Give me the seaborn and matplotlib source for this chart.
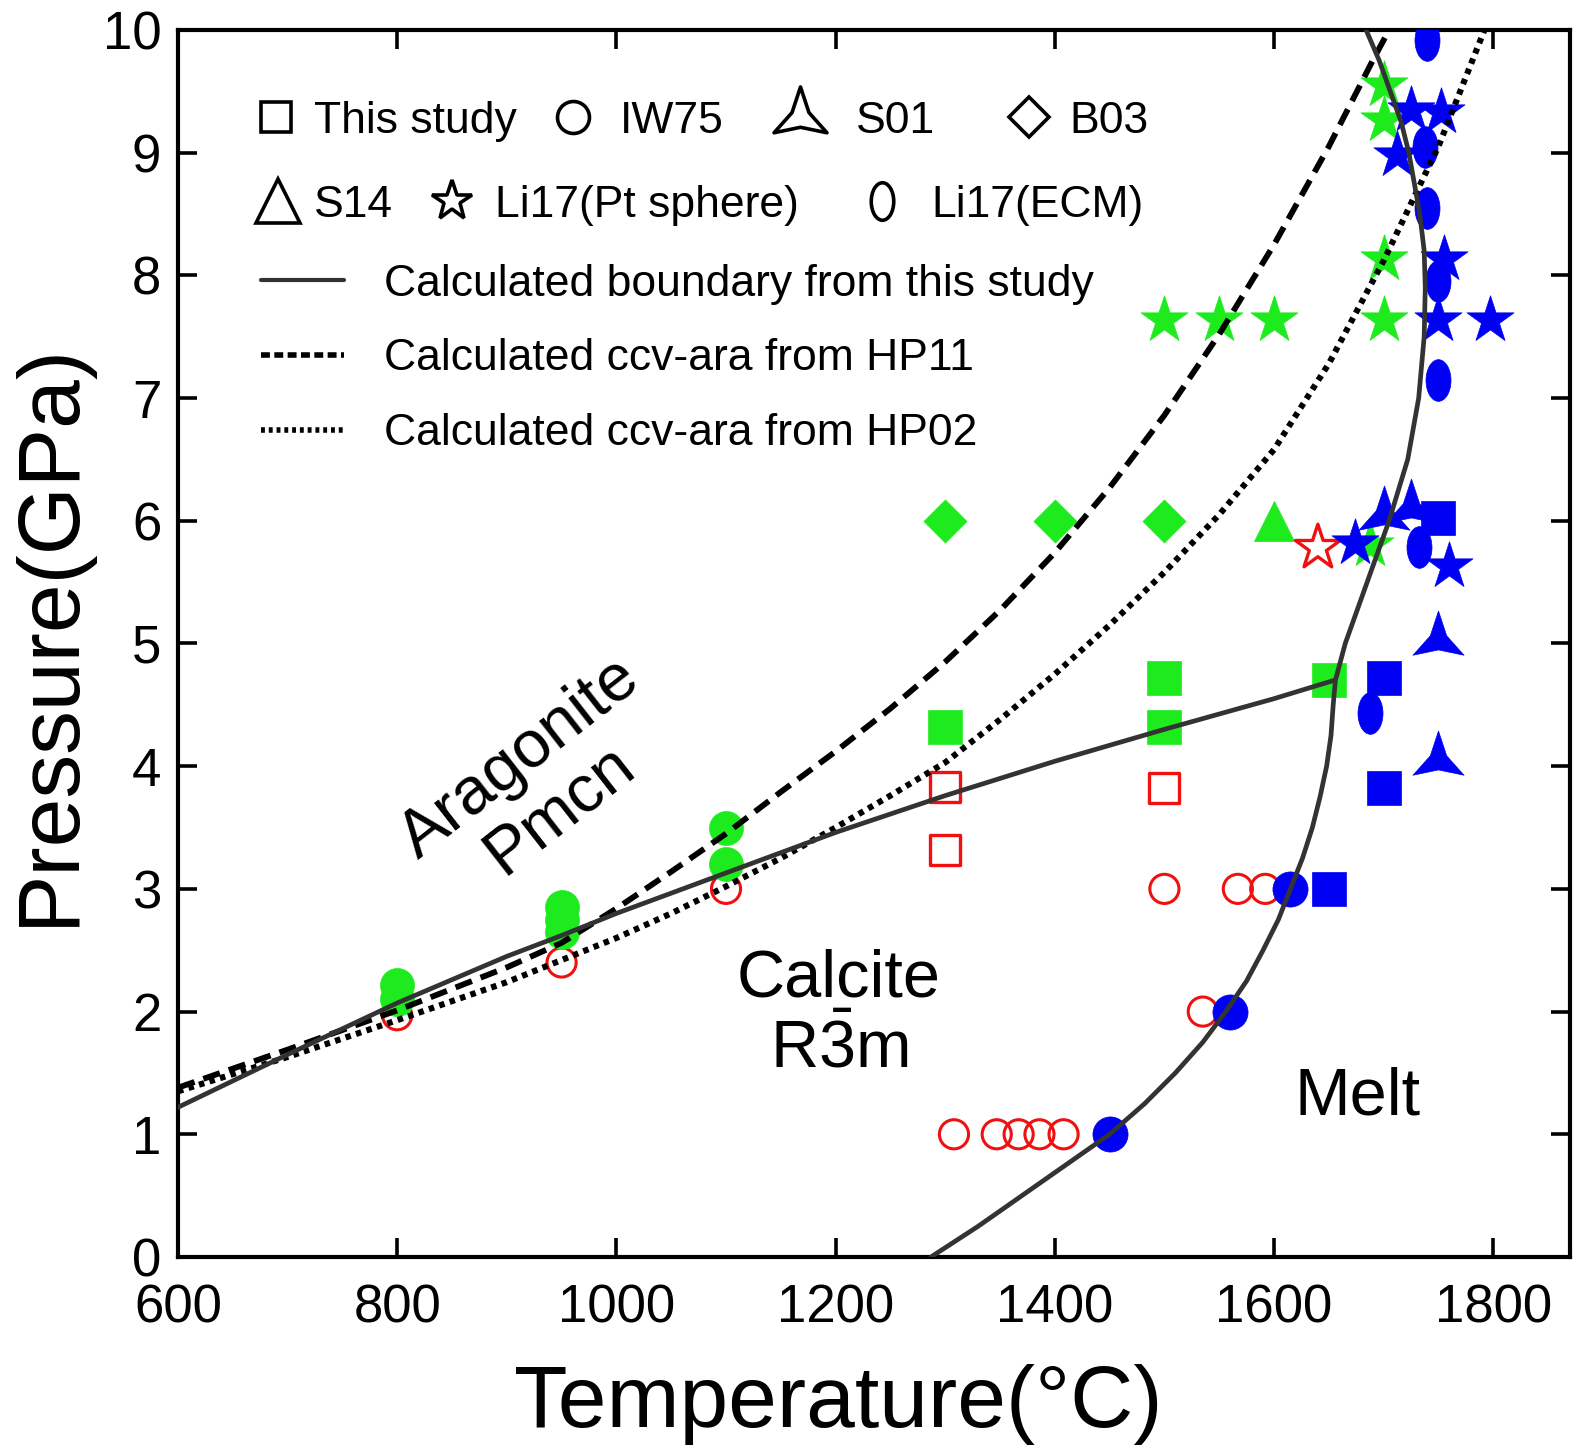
import matplotlib
matplotlib.use("Agg")
import matplotlib.pyplot as plt
import seaborn as sns
from matplotlib.path import Path
from matplotlib.transforms import Affine2D
from matplotlib.lines import Line2D

# ---- experimental points (T in degC, P in GPa) ----
# IW75 circles
iw_arag_T = [800, 800, 950, 950, 950, 1100, 1100]
iw_arag_P = [2.10, 2.22, 2.65, 2.75, 2.85, 3.20, 3.50]
iw_calc_T = [800, 950, 1100, 1500, 1567, 1592, 1535, 1308, 1347, 1367, 1386, 1408]
iw_calc_P = [1.97, 2.40, 3.00, 3.00, 3.00, 3.00, 2.00, 1.00, 1.00, 1.00, 1.00, 1.00]
iw_melt_T = [1450, 1560, 1615]
iw_melt_P = [1.00, 2.00, 3.00]

# this study squares
ts_arag_T = [1300, 1500, 1500, 1650]
ts_arag_P = [4.32, 4.72, 4.32, 4.70]
ts_calc_T = [1300, 1300, 1500]
ts_calc_P = [3.83, 3.32, 3.82]
ts_melt_T = [1650, 1700, 1700, 1750]
ts_melt_P = [3.00, 4.72, 3.82, 6.02]

# S01 (melt)
s01_T = [1750, 1750, 1700, 1725]
s01_P = [5.03, 4.05, 6.05, 6.10]

# B03 diamonds, S14 triangle
b03_T = [1300, 1400, 1500]
b03_P = [6.0, 6.0, 6.0]
s14_T = [1600]
s14_P = [6.0]

# Li17 Pt sphere stars
li_star_arag_T = [1500, 1550, 1600, 1700, 1700, 1700, 1700, 1688]
li_star_arag_P = [7.64, 7.64, 7.64, 7.64, 8.13, 9.27, 9.55, 5.80]
li_star_calc_T = [1640]
li_star_calc_P = [5.78]
li_star_melt_T = [1674, 1760, 1712, 1725, 1752, 1755, 1750, 1797]
li_star_melt_P = [5.82, 5.63, 8.98, 9.35, 9.33, 8.13, 7.64, 7.64]

# Li17 ECM ellipses
li_ecm_T = [1740, 1738, 1740, 1750, 1750, 1688, 1732]
li_ecm_P = [9.92, 9.05, 8.55, 7.95, 7.15, 4.43, 5.79]

# ---- boundaries ----
ccv_T = [600, 700, 800, 900, 950, 1000, 1100, 1200, 1300, 1400, 1500, 1600, 1655]
ccv_P = [1.22, 1.65, 2.07, 2.45, 2.62, 2.80, 3.13, 3.46, 3.76, 4.04, 4.30, 4.55, 4.70]

melt_T = [1287, 1330, 1370, 1410, 1450, 1482, 1510, 1535, 1556, 1575, 1590, 1604, 1615,
          1626, 1635, 1642, 1648, 1652, 1654, 1656, 1665, 1685, 1705, 1722, 1732,
          1737, 1738, 1737, 1733, 1723, 1716, 1706, 1696, 1684]
melt_P = [0.00, 0.25, 0.50, 0.75, 1.00, 1.25, 1.50, 1.75, 2.00, 2.25, 2.50, 2.75, 3.00,
          3.25, 3.50, 3.75, 4.00, 4.25, 4.50, 4.70, 5.00, 5.50, 6.00, 6.50, 7.00,
          7.50, 7.90, 8.20, 8.50, 9.00, 9.25, 9.50, 9.75, 10.00]

hp11_T = [600, 700, 800, 900, 950, 1000, 1050, 1100, 1150, 1200, 1250, 1300, 1350,
          1400, 1450, 1500, 1550, 1600, 1650, 1690, 1705]
hp11_P = [1.38, 1.69, 2.01, 2.36, 2.56, 2.84, 3.14, 3.45, 3.79, 4.12, 4.47, 4.85, 5.27,
          5.74, 6.27, 6.86, 7.52, 8.25, 9.05, 9.75, 10.00]

hp02_T = [600, 700, 800, 900, 950, 1000, 1050, 1100, 1150, 1200, 1250, 1300, 1350,
          1400, 1450, 1500, 1550, 1600, 1650, 1700, 1750, 1792]
hp02_P = [1.35, 1.63, 1.93, 2.24, 2.42, 2.60, 2.80, 3.02, 3.25, 3.50, 3.76, 4.03, 4.38,
          4.75, 5.15, 5.58, 6.05, 6.58, 7.28, 8.12, 9.05, 10.00]

green = "#1EEB1E"
blue = "#0000F5"
red = "#F01010"
dark = "#333333"

sns.set_style("ticks")
plt.rcParams['font.family'] = ['Liberation Sans', 'DejaVu Sans']
plt.rcParams['mathtext.fontset'] = 'custom'
plt.rcParams['mathtext.rm'] = 'Liberation Sans'
plt.rcParams['text.color'] = 'black'
plt.rcParams['axes.labelcolor'] = 'black'

# custom markers
ellipse = Path.unit_circle().transformed(Affine2D().scale(0.6, 1.0))
tri_star = Path.unit_regular_star(3, innerCircle=0.32)

fig = plt.figure(figsize=(15.85, 14.53), dpi=100)
ax = fig.add_axes([0.1123, 0.1349, 0.8782, 0.8445])

def pts(T, P, marker, size, color, open_=False, lw=2.2):
    if open_:
        sns.scatterplot(x=T, y=P, marker=marker, s=size, facecolor="none",
                        edgecolor=color, linewidth=lw, ax=ax, zorder=3)
    else:
        sns.scatterplot(x=T, y=P, marker=marker, s=size, color=color,
                        edgecolor=color, linewidth=0.5, ax=ax, zorder=3)

pts(iw_calc_T, iw_calc_P, "o", 440, red, open_=True)
pts(iw_arag_T, iw_arag_P, "o", 600, green)
pts(iw_melt_T, iw_melt_P, "o", 640, blue)
pts(ts_calc_T, ts_calc_P, "s", 470, red, open_=True, lw=2.4)
pts(ts_arag_T, ts_arag_P, "s", 565, green)
pts(ts_melt_T, ts_melt_P, "s", 565, blue)
pts(b03_T, b03_P, "D", 480, green)
pts(li_star_arag_T, li_star_arag_P, "*", 1270, green)
pts(s14_T, s14_P, "^", 830, green)
pts(li_star_calc_T, li_star_calc_P, "*", 1150, red, open_=True, lw=2.4)
pts(li_star_melt_T, li_star_melt_P, "*", 1270, blue)
pts(s01_T, s01_P, tri_star, 1800, blue)
pts(li_ecm_T, li_ecm_P, ellipse, 900, blue)

# boundaries
sns.lineplot(x=hp11_T, y=hp11_P, sort=False, estimator=None, color="black",
             linewidth=4.2, linestyle=(0, (3.0, 1.6)), ax=ax, zorder=5)
sns.lineplot(x=hp02_T, y=hp02_P, sort=False, estimator=None, color="black",
             linewidth=4.4, linestyle=(0, (0.9, 0.9)), ax=ax, zorder=5)
sns.lineplot(x=ccv_T, y=ccv_P, sort=False, estimator=None, color=dark,
             linewidth=3.4, ax=ax, zorder=6)
sns.lineplot(x=melt_T, y=melt_P, sort=False, estimator=None, color=dark,
             linewidth=3.4, ax=ax, zorder=6)

ax.set_xlim(600, 1870)
ax.set_ylim(0, 10)
ax.set_xticks(range(600, 1801, 200))
ax.set_yticks(range(0, 11))
ax.tick_params(direction="in", length=14, width=2.6, labelsize=38,
               top=True, right=True, colors="black")
ax.tick_params(axis="x", pad=19)
ax.tick_params(axis="y", pad=12)
for sp in ax.spines.values():
    sp.set_linewidth(3.0)
    sp.set_color("black")

ax.set_xlabel("Temperature(°C)", fontsize=63, va="center", color="black")
ax.set_ylabel("Pressure(GPa)", fontsize=63, va="center", color="black")
ax.xaxis.set_label_coords(0.4746, -0.12)
ax.yaxis.set_label_coords(-0.0916, 0.508)

# region labels
ax.text(930, 3.85, "Aragonite\nPmcn", fontsize=48, rotation=38,
        ha="center", va="center", rotation_mode="anchor", linespacing=1.05)
ax.text(1203, 1.97, "Calcite\nR$\\bar{3}$m", fontsize=48, ha="center",
        va="center", linespacing=1.15)
ax.text(1676, 1.30, "Melt", fontsize=48, ha="center", va="center")

# legend
fs = 32
fs_px = fs * 100 / 72
ax_w = 0.8782 * 1585
hl = 1.0

def open_handle(marker, ms):
    return Line2D([], [], linestyle="none", marker=marker, markersize=ms,
                  markerfacecolor="none", markeredgecolor="black",
                  markeredgewidth=2.6)

entries = [
    (open_handle("s", 21), "This study", 0.0704, 0.9255, 0.36),
    (open_handle("o", 23), "IW75", 0.2838, 0.9255, 0.56),
    (open_handle(tri_star, 44), "S01", 0.4468, 0.9255, 0.76),
    (open_handle("D", 20), "B03", 0.6114, 0.9255, 0.40),
    (open_handle("^", 31), "S14", 0.0718, 0.857, 0.30),
    (open_handle("*", 30), "Li17(Pt sphere)", 0.1968, 0.857, 0.47),
    (open_handle(ellipse, 27), "Li17(ECM)", 0.5057, 0.857, 0.62),
]
for h, lab, cx, cy, pad in entries:
    leg = ax.legend([h], [lab], loc="center left",
                    bbox_to_anchor=(cx - hl * fs_px / 2 / ax_w, cy),
                    frameon=False, fontsize=fs, handlelength=hl,
                    handletextpad=pad, borderpad=0, borderaxespad=0)
    ax.add_artist(leg)

line_handles = [
    Line2D([], [], color=dark, linewidth=3.0),
    Line2D([], [], color="black", linewidth=4.0, linestyle=(0, (1.6, 0.8))),
    Line2D([], [], color="black", linewidth=4.0, linestyle=(0, (0.7, 0.7))),
]
line_labels = ["Calculated boundary from this study",
               "Calculated ccv-ara from HP11",
               "Calculated ccv-ara from HP02"]
leg = ax.legend(line_handles, line_labels, loc="center left",
                bbox_to_anchor=(0.0596, 0.732), frameon=False, fontsize=fs,
                handlelength=1.87, handletextpad=0.9, labelspacing=0.76,
                borderpad=0, borderaxespad=0)

fig.savefig("out.png", dpi=100)
